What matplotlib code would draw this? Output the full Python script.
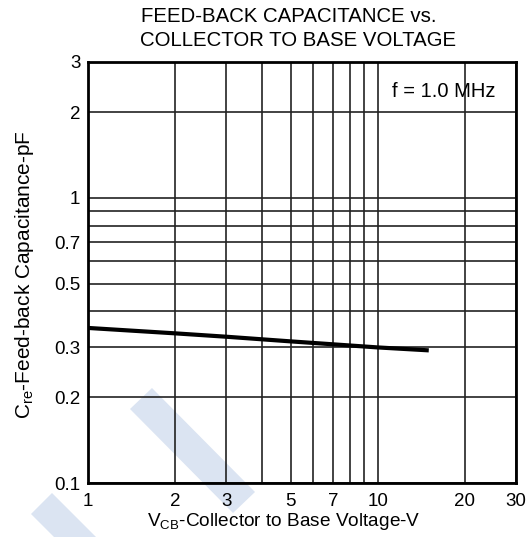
import numpy as np
import matplotlib
matplotlib.use('Agg')
import matplotlib.pyplot as plt
from matplotlib.patches import Polygon
from matplotlib.ticker import FixedLocator, NullFormatter

plt.rcParams['font.family'] = ['Liberation Sans', 'DejaVu Sans']
plt.rcParams['mathtext.fontset'] = 'custom'
plt.rcParams['mathtext.rm'] = 'Liberation Sans'

# data
vcb = [1, 2, 3, 5, 10, 15]
cre = [0.35, 0.335, 0.326, 0.314, 0.299, 0.292]

x_major = [1, 2, 3, 5, 7, 10, 20, 30]
x_minor = [4, 6, 8, 9]
y_major = [0.1, 0.2, 0.3, 0.5, 0.7, 1, 2, 3]
y_minor = [0.4, 0.6, 0.8, 0.9]
x_labels = ['1', '2', '3', '5', '7', '10', '20', '30']
y_labels = ['0.1', '0.2', '0.3', '0.5', '0.7', '1', '2', '3']

W, H = 529, 537
fig = plt.figure(figsize=(W / 100, H / 100), dpi=100)

def px(x, y):
    return (x / W, 1 - y / H)

# faint watermark stripes behind the chart
wm = '#dbe4f2'
for pts in ([(152, 388), (255, 492), (233, 513), (130, 409)],
            [(52, 493), (96, 537), (54, 537), (31, 514)]):
    fig.add_artist(Polygon([px(*p) for p in pts], closed=True,
                           transform=fig.transFigure, color=wm, lw=0, zorder=-5))

left, right, top, bottom = 88, 516, 62, 483
ax = fig.add_axes([left / W, 1 - bottom / H, (right - left) / W, (bottom - top) / H])
ax.patch.set_alpha(0)
ax.set_xscale('log')
ax.set_yscale('log')
ax.set_xlim(1, 30)
ax.set_ylim(0.1, 3)

ax.xaxis.set_major_locator(FixedLocator(x_major))
ax.xaxis.set_minor_locator(FixedLocator(x_minor))
ax.yaxis.set_major_locator(FixedLocator(y_major))
ax.yaxis.set_minor_locator(FixedLocator(y_minor))
ax.set_xticklabels(x_labels)
ax.set_yticklabels(y_labels)
ax.xaxis.set_minor_formatter(NullFormatter())
ax.yaxis.set_minor_formatter(NullFormatter())
ax.tick_params(which='both', length=0, labelsize=13.5, colors='black')
ax.tick_params(axis='x', pad=7.5)
ax.tick_params(axis='y', pad=5.5)
ax.grid(True, which='both', color='#222222', lw=1.2)

for s in ax.spines.values():
    s.set_linewidth(2)
    s.set_color('black')

ax.plot(vcb, cre, color='black', lw=3, solid_capstyle='butt')

ax.text(*ax.transAxes.inverted().transform(fig.transFigure.transform(px(495, 91.5))),
        'f = 1.0 MHz', transform=ax.transAxes, ha='right', va='center', fontsize=14.5)

fig.text(*px(289, 16), 'FEED-BACK CAPACITANCE vs.', ha='center', va='center', fontsize=14.7)
fig.text(*px(298, 41), 'COLLECTOR TO BASE VOLTAGE', ha='center', va='center', fontsize=14.7)

fig.text(*px(284, 522), r'V$_{\mathregular{CB}}$-Collector to Base Voltage-V',
         ha='center', va='center', fontsize=13.7)
fig.text(*px(25, 275), r'C$_{\mathregular{re}}$-Feed-back Capacitance-pF',
         ha='center', va='center', rotation=90, fontsize=15)

fig.savefig('out.png', dpi=100)
